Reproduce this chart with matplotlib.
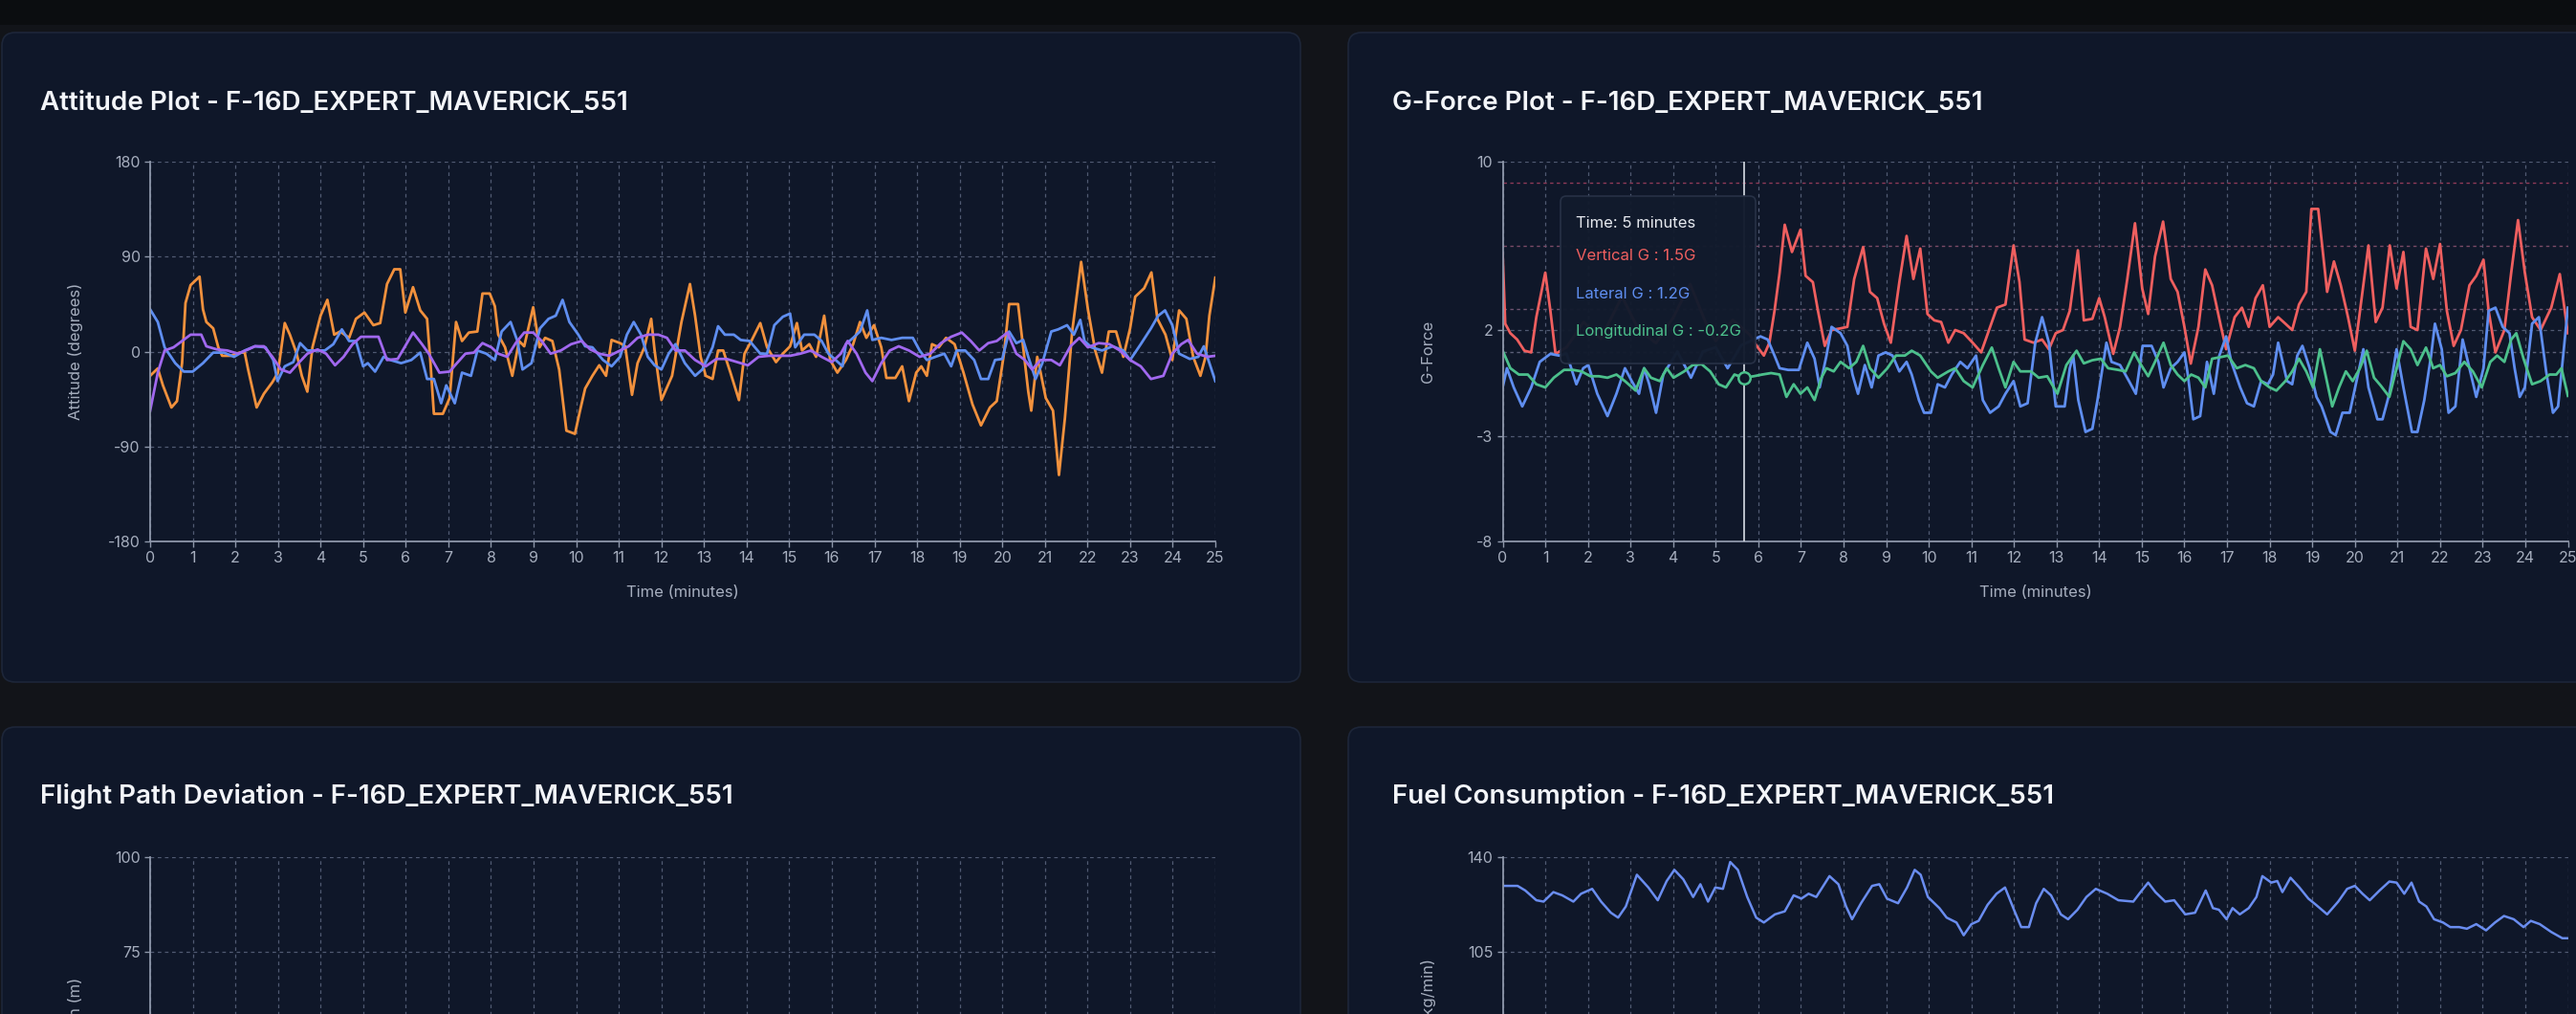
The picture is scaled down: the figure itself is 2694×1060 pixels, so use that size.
import matplotlib
matplotlib.use('Agg')
import matplotlib.pyplot as plt
from matplotlib.patches import FancyBboxPatch, Rectangle
import numpy as np

plt.rcParams['font.family'] = ['Inter', 'DejaVu Sans']
plt.rcParams['axes.unicode_minus'] = False

# ---------------- data ----------------
callsign = "F-16D_EXPERT_MAVERICK_551"
minutes = list(range(0, 26))

# Attitude (degrees)
pitch_t = [0,0.18,0.3,0.5,0.63,0.75,0.83,0.95,1.16,1.24,1.32,1.48,1.6,1.69,1.9,2.1,2.22,2.3,2.5,2.67,
           2.87,3.0,3.16,3.28,3.44,3.56,3.69,3.81,4.0,4.16,4.32,4.46,4.67,4.83,5.03,5.24,5.4,5.56,5.73,5.87,
           5.99,6.17,6.34,6.5,6.58,6.66,6.87,7.03,7.18,7.32,7.48,7.68,7.8,7.97,8.09,8.17,8.33,8.5,8.66,8.78,
           8.99,9.14,9.27,9.44,9.6,9.77,9.97,10.09,10.21,10.38,10.54,10.7,10.83,11.03,11.15,11.31,11.44,11.6,11.76,11.84,
           12.0,12.25,12.47,12.67,12.79,12.92,13.04,13.2,13.33,13.45,13.62,13.82,13.95,14.11,14.32,14.48,14.69,14.85,15.02,15.18,
           15.3,15.47,15.63,15.82,15.96,16.13,16.33,16.5,16.66,16.81,16.99,17.16,17.28,17.49,17.65,17.81,17.98,18.1,18.23,18.35,
           18.51,18.68,18.88,19.09,19.3,19.5,19.71,19.87,20.04,20.16,20.37,20.49,20.61,20.68,20.82,20.9,21.02,21.19,21.33,21.47,
           21.64,21.85,22.01,22.18,22.34,22.5,22.67,22.84,23.0,23.12,23.33,23.5,23.64,23.83,23.99,24.15,24.32,24.48,24.65,24.77,
           24.86,25.0]
pitch_v = [-23,-16,-32,-53,-47,-11,46,63,71,40,28,22,4,-4,-4,-1,-1,-17,-53,-40,
           -29,-20,27,16,-2,-23,-38,4,34,49,16,19,13,31,37,25,27,64,78,78,
           37,61,39,31,-11,-59,-59,-44,28,10,18,19,55,55,43,16,4,-23,10,5,
           42,4,13,10,-17,-75,-78,-56,-35,-23,-13,-23,11,8,5,-41,-11,4,31,1,
           -46,-23,28,64,34,-5,-23,-26,1,1,-20,-46,-2,10,27,4,-10,-2,5,27,
           1,7,-5,34,-8,-20,-8,7,28,13,25,4,-25,-25,-14,-47,-20,-14,-23,7,
           4,13,7,-20,-50,-70,-53,-47,-2,45,45,4,-38,-56,-5,-20,-44,-56,-117,-63,
           19,85,40,1,-20,19,19,-5,22,52,60,75,31,16,-8,39,31,-5,-23,-5,
           34,70]

roll_t = [0,0.18,0.34,0.59,0.79,1.0,1.24,1.48,1.73,1.97,2.22,2.46,2.71,2.89,2.99,3.16,3.36,3.52,3.69,3.89,
          4.1,4.3,4.5,4.67,4.83,5.0,5.11,5.28,5.48,5.64,5.89,6.13,6.34,6.5,6.66,6.83,6.95,7.15,7.32,7.53,
          7.68,7.89,8.09,8.25,8.46,8.62,8.74,8.95,9.15,9.35,9.52,9.68,9.84,10.05,10.21,10.38,10.63,10.83,11.03,11.19,
          11.35,11.52,11.68,11.84,12.0,12.17,12.33,12.55,12.79,12.96,13.2,13.33,13.49,13.7,13.86,14.07,14.32,14.48,14.65,14.85,
          15.02,15.14,15.35,15.59,15.76,15.92,16.09,16.25,16.33,16.5,16.66,16.83,16.95,17.16,17.4,17.65,17.9,18.06,18.23,18.43,
          18.64,18.8,18.93,19.13,19.34,19.5,19.67,19.83,20.0,20.16,20.33,20.49,20.61,20.78,20.94,21.15,21.31,21.52,21.68,21.83,
          21.93,22.09,22.34,22.59,22.84,23.0,23.25,23.49,23.66,23.82,23.99,24.15,24.4,24.6,24.73,25.0]
roll_v = [40,28,4,-11,-19,-19,-11,-1,-1,-5,1,5,4,-8,-28,-14,-10,8,1,1,
          1,7,21,10,10,-14,-11,-19,-5,-8,-11,-8,-1,-26,-26,-49,-32,-49,-20,-23,
          1,-2,-8,19,28,10,-17,-11,22,31,34,49,28,16,5,4,-8,-14,-5,16,
          28,16,-5,-13,-17,-2,7,-11,-23,-17,4,24,16,16,11,10,-2,-2,25,33,
          36,4,16,16,10,-2,-8,-14,7,13,19,39,11,13,11,13,13,1,-8,-5,
          -2,-14,1,1,-8,-26,-26,-8,-7,19,8,11,-5,-26,-11,19,21,25,16,30,
          10,4,1,5,1,-8,7,22,34,39,25,-2,-7,-5,5,-28]

yaw_t = [0,0.18,0.34,0.55,0.75,0.95,1.2,1.32,1.57,1.81,2.06,2.3,2.46,2.67,2.87,3.07,3.28,3.48,3.69,3.93,
         4.13,4.34,4.54,4.75,4.95,5.15,5.36,5.56,5.81,5.97,6.17,6.38,6.54,6.79,7.03,7.2,7.4,7.6,7.8,8.01,
         8.17,8.38,8.58,8.78,8.99,9.19,9.4,9.64,9.88,10.13,10.33,10.54,10.78,11.03,11.23,11.44,11.68,11.93,12.13,12.33,
         12.55,12.79,13.04,13.29,13.53,13.78,14.03,14.28,14.52,14.77,15.02,15.26,15.51,15.76,16.0,16.21,16.37,16.58,16.79,16.95,
         17.16,17.36,17.57,17.81,18.06,18.31,18.56,18.8,19.05,19.26,19.46,19.67,19.87,20.12,20.33,20.53,20.7,20.9,21.15,21.35,
         21.6,21.81,22.01,22.26,22.51,22.76,23.0,23.25,23.49,23.78,23.99,24.2,24.36,24.57,24.81,25.0]
yaw_v = [-56,-20,1,4,10,16,16,5,2,1,-2,2,5,5,-5,-17,-20,-11,-2,2,
         -2,-13,-5,7,14,14,14,-8,-7,4,18,7,-2,-20,-19,-11,-2,-1,8,4,
         -2,-5,8,18,18,10,-2,1,7,10,2,-2,-4,1,5,13,16,16,13,1,
         1,-8,-14,-7,-7,-10,-13,-5,-4,-4,-4,-2,1,-5,-10,-2,10,-2,-20,-28,
         -11,1,5,1,-5,-2,8,14,18,10,1,8,10,18,-2,-8,-17,-8,-8,-13,
         5,13,4,8,7,1,-8,-14,-26,-23,-2,7,11,-2,-5,-4]

# G-Force
vert_t = [0,0.06,0.18,0.34,0.51,0.67,0.79,1.0,1.12,1.24,1.5,1.9,2.3,2.8,3.2,3.6,4.0,4.4,4.8,5.0,5.4,5.8,
          5.95,6.13,6.26,6.38,6.5,6.62,6.79,6.99,7.11,7.28,7.4,7.56,7.72,7.93,8.09,8.25,8.46,8.62,8.79,8.95,
          9.11,9.31,9.48,9.64,9.8,9.97,10.13,10.29,10.46,10.62,10.82,11.03,11.23,11.44,11.6,11.8,11.99,12.13,12.25,12.46,
          12.66,12.82,12.98,13.15,13.31,13.5,13.64,13.84,14.0,14.13,14.33,14.49,14.66,14.84,15.01,15.15,15.31,15.5,15.68,15.84,
          16.0,16.15,16.33,16.49,16.65,16.86,16.98,17.18,17.35,17.51,17.67,17.84,18.0,18.2,18.37,18.53,18.69,18.86,18.98,19.14,
          19.35,19.51,19.67,19.84,20.0,20.16,20.32,20.49,20.65,20.82,20.98,21.14,21.31,21.47,21.67,21.84,22.0,22.16,22.32,22.49,
          22.69,22.85,23.02,23.14,23.3,23.51,23.67,23.83,23.99,24.16,24.36,24.61,24.81,25.0]
vert_v = [5.65,2.32,1.87,1.57,1.04,0.96,2.63,4.74,2.93,0.89,1.2,2.4,1.6,3.6,2.0,1.4,2.6,4.2,2.2,1.5,2.5,1.8,
          1.3,0.81,1.42,2.93,4.74,7.01,5.72,6.78,4.59,4.29,2.93,1.27,2.02,2.1,2.17,4.44,5.95,3.83,3.53,2.32,
          1.42,4.29,6.48,4.44,5.88,2.78,2.48,2.4,1.42,2.02,1.87,1.42,0.96,2.17,3.08,3.23,6.03,4.29,1.57,1.42,
          1.57,1.11,1.87,2.02,2.93,5.8,2.48,2.55,3.53,2.63,0.89,2.17,4.44,7.08,3.99,2.78,5.5,7.16,4.44,3.83,
          2.17,0.43,2.17,4.89,4.14,2.17,1.11,2.63,3.08,2.17,3.53,4.14,2.17,2.63,2.32,2.02,3.23,3.83,7.76,7.76,
          3.83,5.27,4.14,2.63,1.04,3.53,6.03,2.4,3.08,6.03,3.99,5.72,2.17,2.02,5.88,4.44,6.1,2.93,1.27,2.02,
          4.14,4.59,5.35,2.93,0.96,2.02,4.74,7.23,4.74,2.63,2.02,3.08,4.67,1.87]

lat_t = [0,0.1,0.26,0.46,0.67,0.87,1.12,1.32,1.5,1.73,1.89,2.01,2.22,2.46,2.67,2.87,3.03,3.2,3.32,3.44,
         3.6,3.77,4.1,4.42,4.7,5.0,5.28,5.6,6.05,6.22,6.38,6.5,6.7,6.95,7.15,7.32,7.44,7.6,7.72,7.93,
         8.09,8.21,8.34,8.5,8.66,8.82,8.99,9.15,9.31,9.48,9.6,9.77,9.89,10.05,10.21,10.38,10.54,10.74,10.91,11.11,
         11.27,11.44,11.64,11.8,11.99,12.15,12.32,12.5,
         12.66,12.82,12.98,13.19,13.31,13.39,13.51,13.68,13.84,13.96,14.17,14.29,14.49,14.7,14.86,15.02,15.23,15.39,15.51,15.68,
         15.84,16.0,16.08,16.21,16.37,16.53,16.69,16.82,16.98,17.1,17.31,17.47,17.63,17.8,17.96,18.08,18.2,18.41,18.53,18.65,
         18.77,18.94,19.1,19.22,19.43,19.55,19.71,19.88,20.04,20.2,20.32,20.53,20.65,20.81,20.98,21.14,21.34,21.47,21.63,21.79,
         21.88,22.04,22.2,22.36,22.53,22.69,22.85,23.02,23.14,23.3,23.47,23.63,23.75,23.87,23.99,24.16,24.32,24.49,24.65,24.77,
         24.89,25.0]
lat_v = [-0.7,0.21,-0.7,-1.6,-0.7,0.51,0.89,0.81,0.9,-0.55,0.21,0.36,-1.0,-2.06,-1.0,0.21,-0.4,-1.0,0.21,-0.55,
         -1.9,-0.09,1.0,-0.24,1.0,1.2,0.21,1.3,1.72,1.57,0.81,0.21,0.13,0.13,1.42,0.66,-0.7,0.81,2.17,1.87,
         1.27,-0.09,-1.0,0.36,-0.7,0.81,0.96,0.81,0.06,0.51,-0.09,-1.3,-1.9,-1.9,-0.55,-0.7,-0.09,0.51,0.21,0.81,
         -1.3,-1.9,-1.6,-1.0,-0.4,-1.6,-1.45,1.42,
         2.63,1.42,-1.6,-1.6,0.21,0.81,-1.3,-2.81,-2.66,-1.3,1.42,0.51,0.36,-0.4,-1.0,1.27,1.27,0.51,-0.7,0.21,
         0.51,0.96,-0.09,-2.21,-2.06,0.51,-1.0,0.81,1.72,0.51,-0.7,-1.45,-1.6,-0.4,-0.55,-0.09,1.42,-0.4,-0.55,0.81,
         1.27,0.21,-1.15,-1.6,-2.81,-2.96,-1.9,-1.9,-0.4,1.11,-0.7,-2.21,-2.21,-1.0,1.11,-0.7,-2.81,-2.81,-1.3,0.81,
         2.32,1.11,-1.9,-1.6,1.57,0.21,-1.15,0.21,2.93,3.08,2.17,1.87,0.21,-1.15,-0.7,2.32,2.63,0.06,-1.9,-1.6,
         0.81,3.08]

lon_t = [0,0.18,0.38,0.59,0.79,1.0,1.2,1.44,1.65,1.85,2.06,2.26,2.46,2.67,2.87,3.12,3.32,3.48,3.69,3.85,
         4.01,4.26,4.46,4.67,4.87,5.07,5.24,5.44,5.66,5.89,6.09,6.3,6.5,6.66,6.83,6.99,7.15,7.32,7.48,7.6,
         7.77,7.93,8.13,8.3,8.46,8.62,8.82,9.03,9.23,9.44,9.6,9.8,10.05,10.21,10.46,10.62,10.82,11.03,11.27,11.48,
         11.64,11.8,11.99,12.15,12.4,
         12.58,12.78,13.02,13.23,13.47,13.64,13.84,14.04,14.21,14.45,14.62,14.82,14.94,15.15,15.31,15.51,15.68,15.84,16.0,16.16,
         16.33,16.49,16.65,16.86,17.02,17.23,17.43,17.63,17.8,18.0,18.16,18.37,18.53,18.69,18.86,19.02,19.18,19.31,19.47,19.63,
         19.79,19.95,20.12,20.28,20.45,20.61,20.81,20.98,21.14,21.31,21.47,21.67,21.84,22.0,22.16,22.36,22.57,22.77,22.98,23.18,
         23.34,23.51,23.67,23.79,23.96,24.16,24.36,24.57,24.73,24.85,25.0]
lon_v = [1.04,0.21,-0.09,-0.09,-0.55,-0.7,-0.24,0.13,0.13,0.06,-0.17,-0.17,-0.24,-0.09,-0.4,-0.85,0.21,-0.24,-0.4,0.21,
         -0.24,0.06,0.36,0.4,0.06,-0.55,-0.7,-0.09,-0.24,-0.17,-0.09,-0.02,-0.09,-1.15,-0.55,-1.0,-0.7,-1.3,-0.24,0.21,
         0.06,0.51,0.21,0.51,1.27,0.21,-0.24,0.21,0.81,0.81,1.04,0.81,0.06,-0.24,0.06,0.21,-0.4,-0.7,0.36,1.19,
         0.21,-0.7,0.51,0.06,0.06,
         -0.24,-0.17,-1.0,0.36,1.04,0.44,0.59,0.66,0.21,0.13,0.06,0.96,0.51,-0.17,0.51,1.42,0.36,-0.09,-0.4,-0.09,
         -0.24,-0.7,0.66,0.74,0.81,0.21,0.36,0.21,-0.4,-0.7,-0.85,-0.4,0.06,0.66,0.06,-0.7,1.11,-0.09,-1.6,-0.7,
         0.06,-0.4,0.21,1.04,-0.24,-0.62,-1.15,0.21,1.49,1.11,0.36,1.19,0.21,0.36,-0.17,-0.02,0.51,0.06,-0.7,0.51,
         0.81,0.51,1.57,1.87,0.66,-0.55,-0.4,-0.09,-0.09,0.21,-1.1]

g_ref_levels = [9, 6, 3, 1]
cursor_t = 5.67
tooltip_lines = ["Time: 5 minutes", "Vertical G : 1.5G", "Lateral G : 1.2G", "Longitudinal G : -0.2G"]

# Fuel consumption
fuel_t = [0,0.35,0.53,0.79,0.96,1.19,1.4,1.66,1.84,2.1,2.31,2.54,2.71,2.89,3.15,3.42,3.64,3.85,4.03,4.24,
          4.47,4.64,4.82,4.99,5.17,5.34,5.52,5.74,5.95,6.13,6.39,6.62,6.83,7.01,7.18,7.36,7.67,7.88,8.06,8.2,
          8.41,8.67,8.84,9.02,9.28,9.49,9.67,9.81,9.98,10.25,10.42,10.65,10.82,11.0,11.17,11.38,11.59,11.79,12.0,12.17,
          12.35,12.52,12.7,12.87,13.1,13.27,13.49,13.7,13.92,14.19,14.45,14.8,14.97,15.15,15.32,15.55,15.76,16.02,16.25,16.5,
          16.67,16.81,16.99,17.13,17.3,17.51,17.69,17.83,18.04,18.18,18.3,18.49,18.7,18.91,19.09,19.35,19.61,19.82,20.0,20.18,
          20.35,20.58,20.81,20.98,21.16,21.33,21.51,21.68,21.86,22.07,22.24,22.45,22.63,22.85,23.08,23.29,23.5,23.73,23.96,24.13,
          24.34,24.61,24.87,25.0]
fuel_v = [129.4,129.4,127.7,124.1,123.6,127.1,125.9,123.6,126.5,128.3,123.6,119.5,117.7,121.8,133.5,128.8,124.1,131.2,135.3,131.8,
          125.3,130.0,123.6,128.8,128.3,138.2,135.3,125.3,117.7,115.9,118.9,120.0,125.9,124.7,126.5,125.3,133.0,130.0,121.8,117.1,
          123.0,129.4,130.0,124.7,123.0,128.8,135.3,133.5,125.3,121.2,117.7,115.9,111.2,115.3,116.5,122.4,126.5,128.8,120.6,114.2,
          114.2,123.0,128.3,125.9,118.9,117.1,120.6,125.3,128.3,126.5,124.1,123.6,127.1,130.6,127.1,123.6,124.1,118.9,119.5,127.7,
          121.2,120.6,117.1,121.2,118.9,121.2,125.3,133.0,130.6,131.2,127.1,132.4,128.8,124.7,122.4,118.9,123.6,128.3,129.4,126.5,
          124.1,127.7,131.0,130.6,126.5,130.6,123.6,121.8,117.1,115.9,114.2,114.2,113.6,115.3,113.0,115.9,118.3,117.1,114.2,116.5,
          115.3,112.4,110.1,110.1]

# ---------------- styling ----------------
W, H = 2694, 1060
page_c = '#121419'
card_c = '#0f1729'
card_edge = '#1d2639'
axis_c = '#8e97aa'
tick_c = '#a6aebe'
grid_c = '#505a72'
orange, blue, purple = '#f2913d', '#5f8ef0', '#a168ef'
red, green = '#ef5f5f', '#4cc08c'
TICK_FS = 11.5
LABEL_FS = 12

fig = plt.figure(figsize=(W / 100, H / 100), dpi=100)
fig.patch.set_facecolor(page_c)

bg = fig.add_axes([0, 0, 1, 1], zorder=0)
bg.set_xlim(0, W)
bg.set_ylim(H, 0)
bg.axis('off')
bg.add_patch(Rectangle((0, 0), W, 26, color='#0b0d10', lw=0))
for (x, y, w, h) in [(2, 34, 1358, 679), (1410, 34, 1400, 679), (2, 760, 1358, 420), (1410, 760, 1400, 420)]:
    bg.add_patch(FancyBboxPatch((x, y), w, h, boxstyle='round,pad=0,rounding_size=14',
                                fc=card_c, ec=card_edge, lw=1.2))

titles = [(42, 115, "Attitude Plot - " + callsign),
          (1456, 115, "G-Force Plot - " + callsign),
          (42, 840, "Flight Path Deviation - " + callsign),
          (1456, 840, "Fuel Consumption - " + callsign)]
for x, y, s in titles:
    bg.text(x, y, s, color='#f3f5f9', fontsize=20, fontweight='semibold', va='baseline', ha='left')


def px_axes(left, top, width, height, z=2):
    return fig.add_axes([left / W, 1 - (top + height) / H, width / W, height / H], zorder=z)


def style(ax, ylim, yticks, ylabel, xlabel="Time (minutes)", show_x=True):
    ax.set_facecolor('none')
    ax.set_xlim(0, 25)
    ax.set_ylim(*ylim)
    ax.set_xticks(minutes)
    ax.set_yticks(yticks)
    ax.set_yticklabels([str(v) for v in yticks])
    for s in ['top', 'right']:
        ax.spines[s].set_visible(False)
    for s in ['left', 'bottom']:
        ax.spines[s].set_color(axis_c)
        ax.spines[s].set_linewidth(1.3)
    ax.tick_params(colors=axis_c, labelcolor=tick_c, labelsize=TICK_FS, length=4.3, width=1.0, pad=3)
    ax.tick_params(axis='x', labelbottom=show_x)
    ax.grid(True, color=grid_c, lw=0.9, linestyle=(0, (3, 3)))
    ax.set_axisbelow(True)
    ax.set_ylabel(ylabel, color=tick_c, fontsize=LABEL_FS)
    ax.yaxis.label.set_va('center')
    ax.yaxis.set_label_coords(-(78) / 1114, 0.5)
    if show_x:
        ax.set_xlabel(xlabel, color=tick_c, fontsize=LABEL_FS)
        ax.xaxis.label.set_va('center')
        ax.xaxis.set_label_coords(0.5, -53 / 397)


lw = 2.0
# Attitude
ax1 = px_axes(157, 169, 1114, 397)
style(ax1, (-180, 180), [-180, -90, 0, 90, 180], "Attitude (degrees)")
ax1.plot(pitch_t, pitch_v, color=orange, lw=lw, solid_joinstyle='round')
ax1.plot(roll_t, roll_v, color=blue, lw=lw, solid_joinstyle='round')
ax1.plot(yaw_t, yaw_v, color=purple, lw=lw, solid_joinstyle='round')

# G-Force
ax2 = px_axes(1571.5, 169, 1114, 397)
style(ax2, (-8, 10), [-8, -3, 2, 10], "G-Force")
ref_cols = ['#8e3a58', '#7a4a66', '#6d5470', '#5c6078']
for lvl, c in zip(g_ref_levels, ref_cols):
    ax2.axhline(lvl, color=c, lw=1.0, linestyle=(0, (2.5, 2.5)), zorder=1)
ax2.plot(vert_t, vert_v, color=red, lw=lw, solid_joinstyle='round', zorder=2)
ax2.plot(lat_t, lat_v, color=blue, lw=lw, solid_joinstyle='round', zorder=2)
ax2.plot(lon_t, lon_v, color=green, lw=lw, solid_joinstyle='round', zorder=2)
ax2.axvline(cursor_t, color='#c8cdd6', lw=1.3, zorder=3)
ax2.plot([cursor_t], [np.interp(cursor_t, lon_t, lon_v)], 'o', ms=9, mfc=card_c, mec=green, mew=1.8, zorder=4)

# Flight path deviation (only the upper part of the panel is in view)
ax3 = px_axes(157, 896, 1114, 397)
style(ax3, (0, 100), [75, 100], "Path Deviation (m)", show_x=False)

# Fuel
ax4 = px_axes(1571.5, 896, 1114, 397)
style(ax4, (0, 140), [105, 140], "Fuel Flow Rate (kg/min)", show_x=False)
ax4.plot(fuel_t, fuel_v, color='#6a8df0', lw=1.8, solid_joinstyle='round')

# Tooltip overlay
ov = fig.add_axes([0, 0, 1, 1], zorder=10)
ov.set_xlim(0, W)
ov.set_ylim(H, 0)
ov.axis('off')
ov.patch.set_alpha(0)
ov.add_patch(FancyBboxPatch((1632, 205), 204, 175, boxstyle='round,pad=0,rounding_size=6',
                            fc='#121b2d', ec='#283247', lw=1.2, alpha=0.97))
tip_cols = ['#e6e9ef', red, blue, green]
tip_y = [234, 267, 307, 346]
for s, c, y in zip(tooltip_lines, tip_cols, tip_y):
    ov.text(1648, y, s, color=c, fontsize=12, va='center', ha='left')

fig.savefig('out.png', dpi=100, facecolor=fig.get_facecolor())
